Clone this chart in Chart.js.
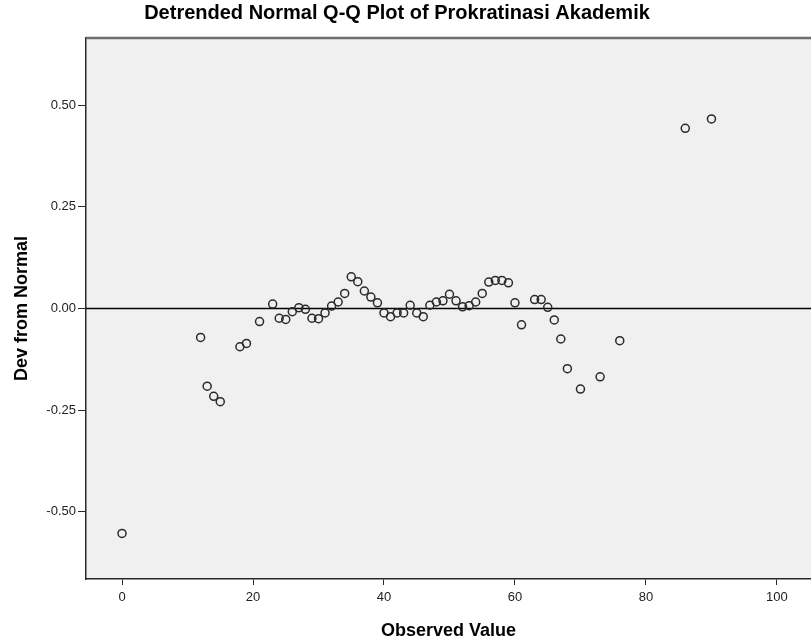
<!DOCTYPE html>
<html>
<head>
<meta charset="utf-8">
<script src="https://cdn.jsdelivr.net/npm/chart.js@4.4.0/dist/chart.umd.min.js"></script>
<style>
  body { margin: 0; background: #ffffff; }
  #qq { display: block; }
</style>
</head>
<body>
<canvas id="qq" width="811" height="640"></canvas>
<script>
const observed = [0, 12, 13, 14, 15, 18, 19, 21, 23, 24, 25, 26, 27, 28, 29, 30, 31, 32, 33, 34,
  35, 36, 37, 38, 39, 40, 41, 42, 43, 44, 45, 46, 47, 48, 49, 50, 51, 52, 53, 54,
  55, 56, 57, 58, 59, 60, 61, 63, 64, 65, 66, 67, 68, 70, 73, 76, 86, 90];
const devFromNormal = [-0.553, -0.071, -0.191, -0.216, -0.229, -0.094, -0.086, -0.032, 0.011, -0.024,
  -0.027, -0.008, 0.002, -0.002, -0.024, -0.025, -0.011, 0.006, 0.016, 0.037,
  0.078, 0.066, 0.043, 0.028, 0.014, -0.011, -0.020, -0.011, -0.011, 0.008,
  -0.011, -0.020, 0.008, 0.016, 0.019, 0.035, 0.019, 0.004, 0.007, 0.016,
  0.037, 0.065, 0.069, 0.069, 0.063, 0.014, -0.040, 0.022, 0.022, 0.003,
  -0.028, -0.075, -0.148, -0.198, -0.168, -0.079, 0.443, 0.466];

const xTicks = [0, 20, 40, 60, 80, 100];
const yTicks = [-0.50, -0.25, 0.00, 0.25, 0.50];

const chartTitle = 'Detrended Normal Q-Q Plot of Prokratinasi Akademik';

const points = observed.map((v, i) => ({ x: v, y: devFromNormal[i] }));

const fontFamily = "'Liberation Sans', Arial, sans-serif";

// grey plot background, zero reference line, top frame line and the title
const plotFrame = {
  id: 'plotFrame',
  beforeDraw(chart) {
    const { ctx, chartArea: a } = chart;
    ctx.save();
    ctx.fillStyle = '#ffffff';
    ctx.fillRect(0, 0, chart.width, chart.height);
    ctx.fillStyle = '#f0f0f0';
    ctx.fillRect(a.left, a.top, a.right - a.left, a.bottom - a.top);
    ctx.restore();
  },
  beforeDatasetsDraw(chart) {
    const { ctx, chartArea: a, scales } = chart;
    const y0 = scales.y.getPixelForValue(0);
    ctx.save();
    ctx.strokeStyle = '#000000';
    ctx.lineWidth = 1.5;
    ctx.beginPath();
    ctx.moveTo(a.left, y0);
    ctx.lineTo(a.right, y0);
    ctx.stroke();
    ctx.strokeStyle = '#6e6e6e';
    ctx.lineWidth = 2.5;
    ctx.beginPath();
    ctx.moveTo(a.left, a.top);
    ctx.lineTo(a.right, a.top);
    ctx.stroke();
    ctx.restore();
  },
  afterDraw(chart) {
    const ctx = chart.ctx;
    ctx.save();
    ctx.fillStyle = '#000000';
    ctx.font = 'bold 20px ' + fontFamily;
    ctx.textAlign = 'center';
    ctx.textBaseline = 'middle';
    ctx.fillText(chartTitle, 397, 13);
    ctx.restore();
  }
};

new Chart(document.getElementById('qq'), {
  type: 'scatter',
  data: {
    datasets: [{
      label: 'Prokratinasi Akademik',
      data: points,
      pointStyle: 'circle',
      pointRadius: 4,
      pointHoverRadius: 4,
      pointBorderWidth: 1.5,
      pointBorderColor: '#2a2a2a',
      pointBackgroundColor: 'rgba(0,0,0,0)'
    }]
  },
  options: {
    responsive: false,
    animation: false,
    layout: { padding: { top: 38, left: 0, right: 0, bottom: 0 }, autoPadding: false },
    plugins: {
      legend: { display: false },
      tooltip: { enabled: false },
      title: { display: false }
    },
    scales: {
      x: {
        type: 'linear',
        min: -5.5,
        max: 105.2,
        afterBuildTicks: (scale) => { scale.ticks = xTicks.map(v => ({ value: v })); },
        afterFit: (scale) => {
          scale.height = 61;
          scale.paddingLeft = 0;
          scale.paddingRight = 0;
        },
        border: { display: true, color: '#2a2a2a', width: 1.5 },
        grid: { display: true, drawOnChartArea: false, drawTicks: true, tickLength: 6, color: '#2a2a2a' },
        ticks: {
          color: '#222222',
          padding: 5,
          maxRotation: 0,
          font: { family: fontFamily, size: 13 },
          callback: (v) => String(v)
        },
        title: {
          display: true,
          text: 'Observed Value',
          color: '#000000',
          font: { family: fontFamily, size: 18, weight: 'bold', lineHeight: 1 },
          padding: { top: 0, bottom: 0 }
        }
      },
      y: {
        type: 'linear',
        min: -0.665,
        max: 0.665,
        afterBuildTicks: (scale) => { scale.ticks = yTicks.map(v => ({ value: v })); },
        afterFit: (scale) => {
          scale.width = 86;
          scale.paddingTop = 0;
          scale.paddingBottom = 0;
        },
        border: { display: true, color: '#2a2a2a', width: 1.5 },
        grid: { display: true, drawOnChartArea: false, drawTicks: true, tickLength: 8, color: '#2a2a2a' },
        ticks: {
          color: '#222222',
          padding: 2,
          font: { family: fontFamily, size: 13 },
          callback: (v) => Number(v).toFixed(2)
        },
        title: {
          display: true,
          text: 'Dev from Normal',
          color: '#000000',
          font: { family: fontFamily, size: 18, weight: 'bold', lineHeight: 1 },
          padding: { top: 13, bottom: 0 }
        }
      }
    }
  },
  plugins: [plotFrame]
});
</script>
</body>
</html>
